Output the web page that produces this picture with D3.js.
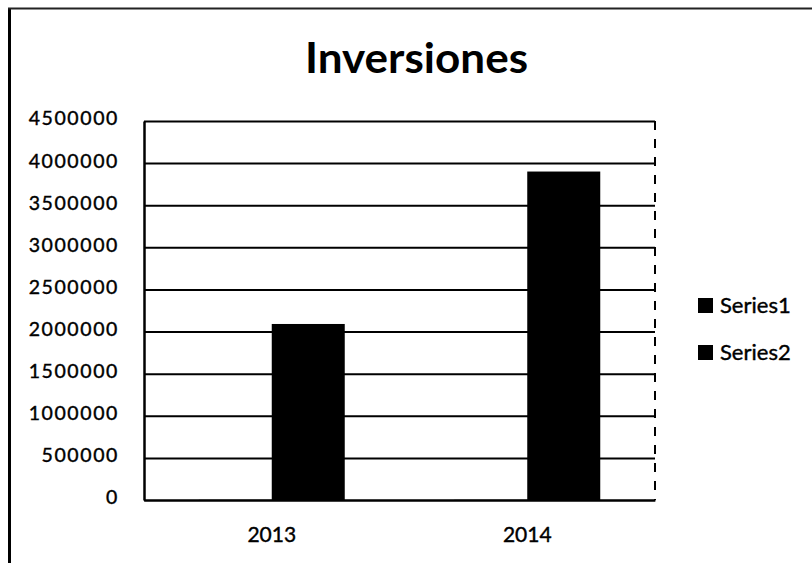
<!DOCTYPE html>
<html>
<head>
<meta charset="utf-8">
<script src="https://cdn.jsdelivr.net/npm/d3@7"></script>
<style>
  body { margin: 0; background: #fff; }
  svg, svg text { font-family: Lato, "Open Sans", sans-serif; }
  .grid line { stroke: #000; stroke-width: 2; }
  .grid path { display: none; }
</style>
</head>
<body>
<script>
// chart data
const years = ['2013', '2014'];
const seriesNames = ['Series1', 'Series2'];
const series1 = [2013, 2014];
const series2 = [2090000, 3900000];
const yTicks = [0, 500000, 1000000, 1500000, 2000000, 2500000, 3000000, 3500000, 4000000, 4500000];

document.addEventListener('DOMContentLoaded', () => {
  const w = 812;
  const h = 563;
  const left = 144, right = 655, top = 121, bottom = 500;

  const dataset = years.map((y, i) => ({ year: y, values: [series1[i], series2[i]] }));

  const svg = d3.select('body')
                .append('svg')
                .attr('width', w)
                .attr('height', h);

  // outer chart border (runs off the right and bottom)
  svg.append('line')
     .attr('x1', 9.5).attr('y1', 8).attr('x2', 9.5).attr('y2', h)
     .attr('stroke', '#000').attr('stroke-width', 3);
  svg.append('line')
     .attr('x1', 8).attr('y1', 8.5).attr('x2', w).attr('y2', 8.5)
     .attr('stroke', '#222').attr('stroke-width', 2);

  svg.append('text')
     .text('Inversiones')
     .attr('x', 416.5)
     .attr('y', 73)
     .attr('text-anchor', 'middle')
     .attr('font-weight', 'bold')
     .attr('font-size', 42)
     .attr('textLength', 223)
     .attr('lengthAdjust', 'spacingAndGlyphs');

  const xScale = d3.scaleBand()
                   .domain(years)
                   .range([left, right]);

  const x1 = d3.scaleBand()
               .domain(seriesNames)
               .range([0, xScale.bandwidth()])
               .paddingOuter(0.75);

  const yScale = d3.scaleLinear()
                   .domain([0, 4500000])
                   .range([bottom, top]);

  // gridlines
  svg.append('g')
     .attr('class', 'grid')
     .attr('transform', 'translate(' + left + ',0)')
     .call(d3.axisLeft(yScale).tickValues(yTicks).tickSize(-(right - left)).tickFormat(''));

  // bars
  svg.selectAll('g.cat')
     .data(dataset)
     .enter()
     .append('g')
     .attr('class', 'cat')
     .attr('transform', (d) => 'translate(' + xScale(d.year) + ',0)')
     .selectAll('rect')
     .data((d) => d.values.map((v, i) => ({ name: seriesNames[i], value: v })))
     .enter()
     .append('rect')
     .attr('x', (d) => x1(d.name))
     .attr('y', (d) => yScale(d.value))
     .attr('width', x1.bandwidth())
     .attr('height', (d) => bottom - yScale(d.value))
     .attr('fill', '#000');

  // right edge of the plot, dashed
  svg.append('line')
     .attr('x1', right).attr('y1', top).attr('x2', right).attr('y2', bottom)
     .attr('stroke', '#000').attr('stroke-width', 2)
     .attr('stroke-dasharray', '9,9');

  const yAxis = d3.axisLeft(yScale).tickValues(yTicks).tickSize(0).tickPadding(25).tickFormat(d3.format('d'));
  const xAxis = d3.axisBottom(xScale).tickSize(0).tickPadding(27);

  const gy = svg.append('g')
     .attr('id', 'y-axis')
     .attr('transform', 'translate(' + left + ',0)')
     .call(yAxis)
     .attr('font-family', 'Lato, sans-serif')
     .attr('font-size', 19.5);
  gy.select('path').attr('stroke', '#000').attr('stroke-width', 2.5);
  gy.selectAll('text')
    .attr('letter-spacing', 1.6)
    .attr('fill', '#000')
    .attr('stroke', '#000')
    .attr('stroke-width', 0.4)
    .attr('dy', '0.2em');

  const gx = svg.append('g')
     .attr('id', 'x-axis')
     .attr('transform', 'translate(0,' + bottom + ')')
     .call(xAxis)
     .attr('font-family', 'Lato, sans-serif')
     .attr('font-size', 21);
  gx.select('path').attr('stroke', '#000').attr('stroke-width', 2);
  gx.selectAll('text')
    .attr('fill', '#000')
    .attr('stroke', '#000')
    .attr('stroke-width', 0.4);

  // legend
  const legend = svg.selectAll('g.legend')
     .data(seriesNames)
     .enter()
     .append('g')
     .attr('class', 'legend')
     .attr('transform', (d, i) => 'translate(698,' + (298 + i * 47) + ')');
  legend.append('rect')
        .attr('width', 15)
        .attr('height', 15)
        .attr('fill', '#000');
  legend.append('text')
        .text((d) => d)
        .attr('x', 22)
        .attr('y', 15)
        .attr('font-size', 22)
        .attr('fill', '#000')
        .attr('stroke', '#000')
        .attr('stroke-width', 0.4);
});
</script>
</body>
</html>
